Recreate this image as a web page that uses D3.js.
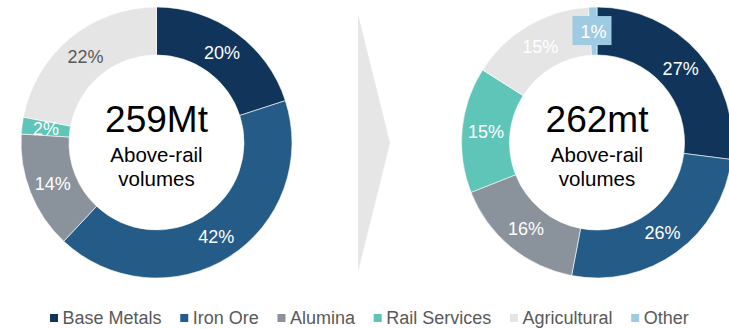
<!DOCTYPE html>
<html>
<head>
<meta charset="utf-8">
<script src="https://cdn.jsdelivr.net/npm/d3@7"></script>
<style>
  html, body { margin: 0; padding: 0; background: #fff; }
  svg { display: block; font-family: "Liberation Sans", Arial, sans-serif; }
</style>
</head>
<body>
<svg id="chart" width="729" height="329"></svg>
<script>
// Volume mix by commodity, shares in percent
const categories = ["Base Metals", "Iron Ore", "Alumina", "Rail Services", "Agricultural", "Other"];
const colors = ["#11355a", "#255b87", "#8a929b", "#5fc5b9", "#e5e5e5", "#9ecbe1"];
const sharesBefore = [20, 42, 14, 2, 22, 0];
const sharesAfter = [27, 26, 16, 15, 15, 1];
const totals = ["259Mt", "262mt"];
const subtitle = ["Above-rail", "volumes"];

const svg = d3.select("#chart");

const outerR = 135.5, innerR = 87.5, labelR = (outerR + innerR) / 2;
const centers = [[156.5, 142.5], [597, 142.5]];

const color = d3.scaleOrdinal().domain(categories).range(colors);
const arc = d3.arc().innerRadius(innerR).outerRadius(outerR);
const labelArc = d3.arc().innerRadius(labelR).outerRadius(labelR);
const pie = d3.pie().sort(null).value(d => d.value);

// Chevron between the two rings
svg.append("path")
  .attr("d", d3.line()([[358, 14], [390, 143], [358, 272]]) + "Z")
  .attr("fill", "#e6e6e6");

function donut(values, total, center, labelColors) {
  const rows = categories.map((c, i) => ({ cat: c, value: values[i] })).filter(d => d.value > 0);
  const g = svg.append("g").attr("transform", `translate(${center[0]},${center[1]})`);
  const arcs = pie(rows);

  g.selectAll("path.slice")
    .data(arcs)
    .join("path")
    .attr("class", "slice")
    .attr("d", arc)
    .attr("fill", d => color(d.data.cat))
    .attr("stroke", "#fff")
    .attr("stroke-width", 0.6);

  const lab = g.selectAll("g.lab")
    .data(arcs)
    .join("g")
    .attr("class", "lab")
    .attr("transform", d => `translate(${labelArc.centroid(d)})`);

  // small slices get a boxed label
  lab.filter(d => d.data.cat === "Other")
    .append("rect")
    .attr("x", -21).attr("y", -15).attr("width", 39).attr("height", 29)
    .attr("fill", d => color(d.data.cat));

  lab.append("text")
    .attr("text-anchor", "middle")
    .attr("dy", "0.36em")
    .attr("font-size", 18)
    .attr("fill", d => labelColors[d.data.cat] || "#fff")
    .text(d => d.data.value + "%");

  g.append("text")
    .attr("text-anchor", "middle")
    .attr("y", -10.5)
    .attr("font-size", 37)
    .attr("fill", "#000")
    .text(total);
  g.append("text")
    .attr("text-anchor", "middle")
    .attr("y", 19)
    .attr("font-size", 20.5)
    .attr("fill", "#000")
    .text(subtitle[0]);
  g.append("text")
    .attr("text-anchor", "middle")
    .attr("y", 43.5)
    .attr("font-size", 20.5)
    .attr("fill", "#000")
    .text(subtitle[1]);
}

donut(sharesBefore, totals[0], centers[0], { "Agricultural": "#595959" });
donut(sharesAfter, totals[1], centers[1], {});

// Legend along the bottom
const legend = svg.append("g").attr("transform", "translate(50,318)");
let x = 0;
categories.forEach(c => {
  const item = legend.append("g").attr("transform", `translate(${x},0)`);
  item.append("rect")
    .attr("x", 0).attr("y", -4).attr("width", 8).attr("height", 8)
    .attr("fill", color(c));
  const t = item.append("text")
    .attr("x", 12.5)
    .attr("dy", "0.36em")
    .attr("font-size", 18)
    .attr("fill", "#595959")
    .text(c);
  x += 12.5 + t.node().getComputedTextLength() + 18.7;
});
</script>
</body>
</html>
